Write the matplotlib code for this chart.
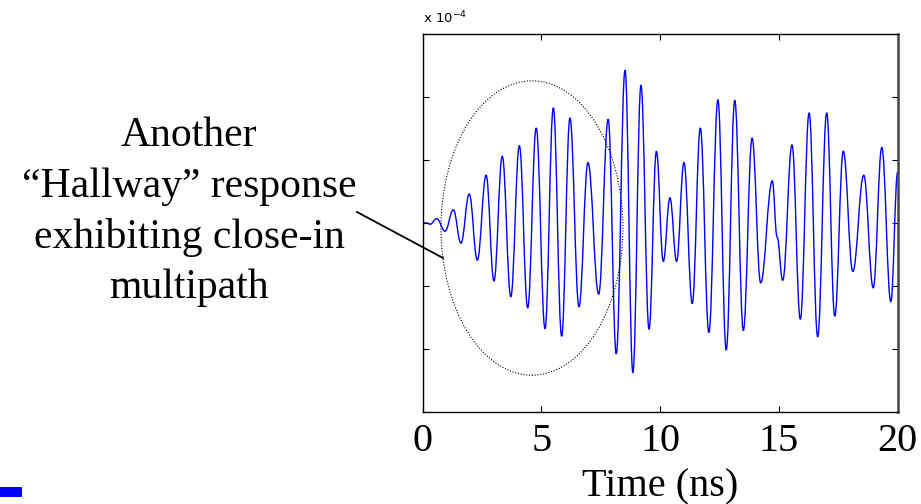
import matplotlib
matplotlib.use("Agg")
import matplotlib.pyplot as plt
from matplotlib.patches import Ellipse, Rectangle, PathPatch
from matplotlib.path import Path
from matplotlib.lines import Line2D

# waveform extrema (time in ns, amplitude in units of 1e-4)
time_ns = [0.0, 0.18, 0.31, 0.59, 0.94, 1.29, 1.61, 1.96, 2.30, 2.67, 3.00, 3.35,
           3.71, 4.07, 4.42, 4.78, 5.15, 5.50, 5.85, 6.20, 6.58, 6.96, 7.41, 7.81,
           8.15, 8.52, 8.85, 9.19, 9.53, 9.84, 10.13, 10.41, 10.69, 11.00, 11.35,
           11.69, 12.05, 12.43, 12.78, 13.14, 13.50, 13.87, 14.23, 14.72, 14.92,
           15.16, 15.55, 15.90, 16.27, 16.63, 17.01, 17.35, 17.71, 18.11, 18.57,
           18.97, 19.33, 19.71, 20.0]
amp_e4 = [0.0, 0.0, -0.02, 0.07, -0.13, 0.21, -0.32, 0.46, -0.59, 0.76, -0.92, 1.06,
          -1.17, 1.23, -1.35, 1.51, -1.68, 1.83, -1.80, 1.67, -1.33, 0.96, -1.13, 1.65,
          -2.08, 2.43, -2.38, 2.19, -1.69, 1.14, -0.61, 0.40, -0.61, 0.96, -1.28,
          1.51, -1.74, 1.96, -2.02, 1.95, -1.71, 1.35, -0.95, 0.67, -0.22,
          -0.91, 1.24, -1.53, 1.75, -1.81, 1.75, -1.48, 1.14, -0.77, 0.76,
          -1.03, 1.20, -1.25, 0.81]

x_ticks = [0, 5, 10, 15, 20]
y_ticks = [-2, -1, 0, 1, 2]
note = "Another\n\u201cHallway\u201d response\nexhibiting close-in\nmultipath"

W, H = 921, 504
fig = plt.figure(figsize=(W / 100, H / 100), dpi=100)
ax = fig.add_axes([422.7 / W, 1 - 411.7 / H, 475 / W, 377.4 / H])

# smooth curve through the extrema: cubic segments with flat tangents at each turn
verts = [(time_ns[0], amp_e4[0])]
codes = [Path.MOVETO]
for i in range(1, len(time_ns)):
    x0, y0 = time_ns[i - 1], amp_e4[i - 1]
    x1, y1 = time_ns[i], amp_e4[i]
    dx = x1 - x0
    verts += [(x0 + 0.4 * dx, y0), (x1 - 0.4 * dx, y1), (x1, y1)]
    codes += [Path.CURVE4] * 3
ax.add_patch(PathPatch(Path(verts, codes), fill=False, ec="#0000ff", lw=1.0))

ax.set_xlim(0, 20)
ax.set_ylim(-3, 3)
ax.set_xticks(x_ticks)
ax.set_yticks(y_ticks)
ax.set_yticklabels([])
ax.tick_params(direction="in", length=4, width=0.8, top=True, right=True,
               labelsize=29, pad=8)
for lab in ax.get_xticklabels():
    lab.set_family("Liberation Serif")
ax.set_xlabel("Time (ns)", fontsize=29, family="Liberation Serif", labelpad=6)
for s in ax.spines.values():
    s.set_linewidth(1.0)
ax.spines["right"].set_color("#444444")
ax.spines["right"].set_linewidth(1.8)

# dotted ellipse around the close-in multipath part
ax.add_patch(Ellipse((4.6, -0.08), 7.66, 4.68, fill=False, ec="black",
                     lw=0.8, ls=(0, (1, 1.5))))

ax.text(0.0, 1.02, r"x 10$^{-4}$", transform=ax.transAxes, fontsize=9.5,
        ha="left", va="bottom")

fig.text(189 / W, 1 - 212 / H, note, ha="center", va="center",
         multialignment="center", fontsize=30, family="Liberation Serif",
         linespacing=1.4)
fig.add_artist(Line2D([357 / W, 443 / W], [1 - 212 / H, 1 - 258 / H],
                      transform=fig.transFigure, color="black", lw=1.3))

fig.add_artist(Rectangle((0, 1 - 497 / H), 22 / W, 10.5 / H,
                         transform=fig.transFigure, color="#0000ff", lw=0))

fig.savefig("out.png", dpi=100)
